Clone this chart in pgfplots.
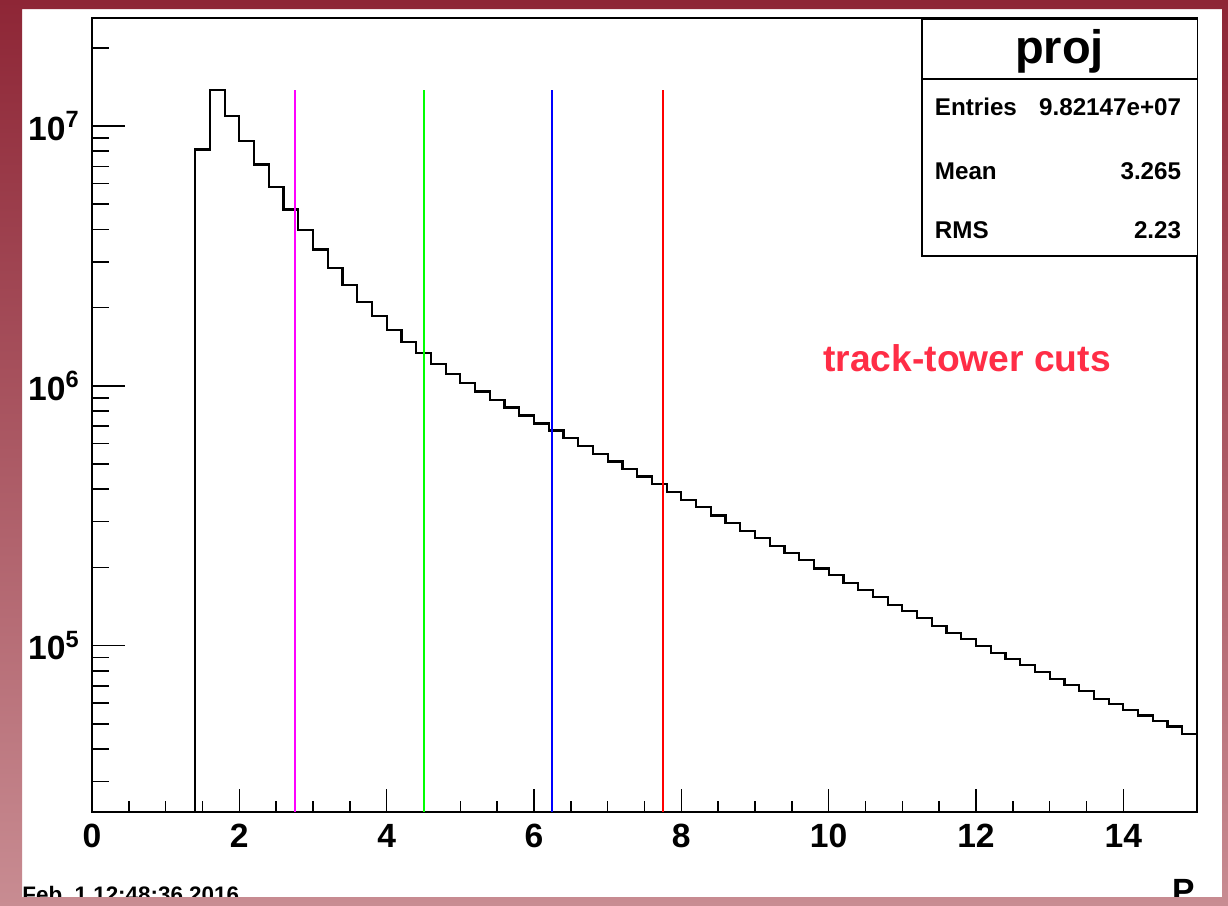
\documentclass[border=0pt]{standalone}
\usepackage{fontspec}
\setmainfont{Liberation Sans}
\usepackage{pgfplots}
\pgfplotsset{compat=1.18}
\definecolor{cutred}{RGB}{255,45,70}
\definecolor{frametop}{RGB}{142,38,54}
\definecolor{framebot}{RGB}{200,140,146}
\definecolor{cutmagenta}{RGB}{255,0,255}
\definecolor{cutgreen}{RGB}{0,255,0}
\definecolor{cutblue}{RGB}{0,0,255}
\definecolor{cutredline}{RGB}{255,0,0}

% histogram: lower bin edge, content (bin width 0.2)
\pgfplotstableread{
x y
1.4 2.289e4
1.4 8.13e6
1.6 1.376e7
1.8 1.093e7
2.0 8.75e6
2.2 7.11e6
2.4 5.81e6
2.6 4.77e6
2.8 3.98e6
3.0 3.35e6
3.2 2.85e6
3.4 2.44e6
3.6 2.11e6
3.8 1.86e6
4.0 1.643e6
4.2 1.471e6
4.4 1.336e6
4.6 1.215e6
4.8 1.112e6
5.0 1.024e6
5.2 9.51e5
5.4 8.84e5
5.6 8.25e5
5.8 7.69e5
6.0 7.16e5
6.2 6.73e5
6.4 6.32e5
6.6 5.87e5
6.8 5.47e5
7.0 5.11e5
7.2 4.78e5
7.4 4.48e5
7.6 4.20e5
7.8 3.90e5
8.0 3.64e5
8.2 3.41e5
8.4 3.17e5
8.6 2.97e5
8.8 2.77e5
9.0 2.59e5
9.2 2.42e5
9.4 2.28e5
9.6 2.14e5
9.8 1.98e5
10.0 1.87e5
10.2 1.74e5
10.4 1.64e5
10.6 1.536e5
10.8 1.435e5
11.0 1.358e5
11.2 1.279e5
11.4 1.191e5
11.6 1.122e5
11.8 1.058e5
12.0 9.97e4
12.2 9.40e4
12.4 8.86e4
12.6 8.43e4
12.8 7.94e4
13.0 7.44e4
13.2 7.06e4
13.4 6.71e4
13.6 6.25e4
13.8 5.95e4
14.0 5.65e4
14.2 5.38e4
14.4 5.14e4
14.6 4.88e4
14.8 4.57e4
15.0 4.57e4
}\proj

\begin{document}
\begin{tikzpicture}
\begin{scope}[x=0.5pt,y=-0.5pt]
  \useasboundingbox (0,0) rectangle (1228,906);
  \fill[white] (22,9) rectangle (1222,897);
\end{scope}
\begin{axis}[
  at={(46pt,-9pt)}, anchor=north west,
  scale only axis, width=552.5pt, height=397pt,
  xmin=0, xmax=15,
  ymode=log, ymin=2.289e4, ymax=2.606e7,
  axis line style={line width=0.8pt},
  tick align=inside, tick pos=left,
  xtick={0,2,...,14}, minor x tick num=3,
  ytick={1e5,1e6,1e7},
  yticklabels={10\textsuperscript{5},10\textsuperscript{6},10\textsuperscript{7}},
  minor ytick={3e4,4e4,5e4,6e4,7e4,8e4,9e4,2e5,3e5,4e5,5e5,6e5,7e5,8e5,9e5,2e6,3e6,4e6,5e6,6e6,7e6,8e6,9e6,2e7},
  major tick length=16.5pt, minor tick length=8.5pt,
  major x tick style={/pgfplots/major tick length=11.5pt},
  minor x tick style={/pgfplots/minor tick length=5.5pt},
  every tick/.style={black, line width=0.8pt},
  /pgf/number format/assume math mode=true,
  ticklabel style={font=\fontsize{16.8}{18}\selectfont\bfseries, inner sep=0pt},
  xticklabel style={yshift=-6pt},
  yticklabel style={xshift=-6pt},
]
\addplot[const plot, black, line width=1.1pt] table[x=x, y=y] {\proj};
\addplot[cutmagenta, line width=1pt] coordinates {(2.75,2.289e4) (2.75,1.376e7)};
\addplot[cutgreen, line width=1pt] coordinates {(4.5,2.289e4) (4.5,1.376e7)};
\addplot[cutblue, line width=1pt] coordinates {(6.25,2.289e4) (6.25,1.376e7)};
\addplot[cutredline, line width=1pt] coordinates {(7.75,2.289e4) (7.75,1.376e7)};
\end{axis}
\begin{scope}[x=0.5pt,y=-0.5pt]
  % stats box
  \draw[line width=0.8pt, fill=white] (921.7,19) rectangle (1197.5,256);
  \draw[line width=0.8pt] (921.7,79) -- (1197.5,79);
  \node[anchor=base, inner sep=0pt, font=\fontsize{23.5}{26}\selectfont\bfseries] at (1059.6,63.3) {proj};
  \begin{scope}[every node/.style={inner sep=0pt, font=\fontsize{12.1}{14}\selectfont\bfseries}]
    \node[anchor=base west] at (934.5,115) {Entries};
    \node[anchor=base east] at (1181.5,115) {9.82147e+07};
    \node[anchor=base west] at (934.5,179) {Mean};
    \node[anchor=base east] at (1181.5,179) {3.265};
    \node[anchor=base west] at (934.5,238) {RMS};
    \node[anchor=base east] at (1181.5,238) {2.23};
  \end{scope}
  \node[anchor=base west, inner sep=0pt, text=cutred, font=\fontsize{18.6}{20}\selectfont\bfseries] at (823,371.7) {track-tower cuts};
  \node[anchor=base west, inner sep=0pt, font=\fontsize{11.2}{13}\selectfont\bfseries] at (22,902) {Feb~~1 12:48:36 2016};
  \node[anchor=base east, inner sep=0pt, font=\fontsize{16.8}{18}\selectfont\bfseries] at (1195,902) {P};
  % canvas frame
  \shade[top color=frametop, bottom color=framebot, even odd rule] (0,0) rectangle (1228,906) (22,9) rectangle (1222,897);
\end{scope}
\end{tikzpicture}
\end{document}
